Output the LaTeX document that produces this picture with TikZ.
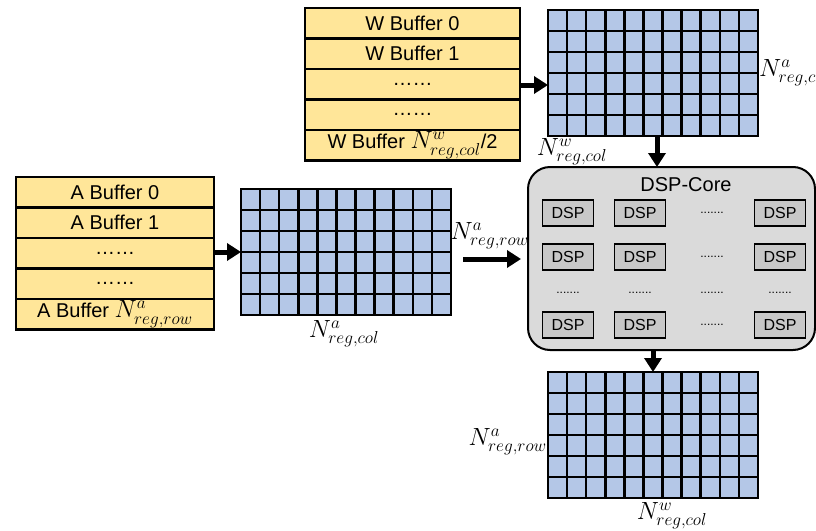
\documentclass[tikz,border=0pt]{standalone}
\usepackage{fontspec}
\setmainfont{Liberation Sans}
\usetikzlibrary{arrows.meta,calc}
\definecolor{bufyellow}{HTML}{FFE699}
\definecolor{regblue}{HTML}{B4C7E7}
\definecolor{coregray}{HTML}{DADADA}
\definecolor{dspgray}{HTML}{C8C8C8}
\tikzset{
  bufrow/.style={draw=black, line width=2.2pt, fill=bufyellow, minimum width=#1, minimum height=30.5pt, inner sep=0pt, outer sep=0pt, font=\fontsize{20}{22}\selectfont, anchor=north west},
  regmat/.style={draw=black, line width=2.6pt, fill=regblue, minimum width=210pt, minimum height=126pt, inner sep=0pt, outer sep=0pt, anchor=north west},
  gridline/.style={line width=2.6pt},
  bigarrow/.style={line width=5pt, -{Triangle[length=14pt,width=17pt]}},
  dspbox/.style={draw=black, line width=1.8pt, fill=dspgray, minimum width=51pt, minimum height=26pt, inner sep=0pt, outer sep=0pt, font=\fontsize{16}{18}\selectfont},
  dots/.style={font=\fontsize{12}{14}\selectfont, inner sep=0pt},
  mathlbl/.style={font=\fontsize{23}{25}\selectfont, inner sep=0pt},
}
\newcommand{\bigmath}[1]{{\fontsize{23}{25}\selectfont$#1$}}
\newcommand{\regcells}[1]{%
  \foreach \i in {1,...,10} {
    \draw[gridline] ($(#1.north west)!\i/11!(#1.north east)$) -- ($(#1.south west)!\i/11!(#1.south east)$);
  }
  \foreach \j in {1,...,5} {
    \draw[gridline] ($(#1.north west)!\j/6!(#1.south west)$) -- ($(#1.north east)!\j/6!(#1.south east)$);
  }
}
\begin{document}
\begin{tikzpicture}[x=1pt,y=-1pt]
\useasboundingbox (0,0) rectangle (816,530);

% W buffer
\node[bufrow=215pt] (w0) at (305,8) {W Buffer 0};
\node[bufrow=215pt] (w1) at (w0.south west) {W Buffer 1};
\node[bufrow=215pt] (w2) at (w1.south west) {……};
\node[bufrow=215pt] (w3) at (w2.south west) {……};
\node[bufrow=215pt] (w4) at (w3.south west) {W Buffer \bigmath{N^{w}_{reg,col}}/2};

% A buffer
\node[bufrow=198pt] (a0) at (16,177) {A Buffer 0};
\node[bufrow=198pt] (a1) at (a0.south west) {A Buffer 1};
\node[bufrow=198pt] (a2) at (a1.south west) {……};
\node[bufrow=198pt] (a3) at (a2.south west) {……};
\node[bufrow=198pt] (a4) at (a3.south west) {A Buffer \bigmath{N^{a}_{reg,row}}};

% register matrices
\node[regmat] (wm) at (548,10) {};
\regcells{wm}
\node[regmat] (am) at (241,189) {};
\regcells{am}
\node[regmat] (om) at (548,372) {};
\regcells{om}

% DSP core
\node[draw=black, line width=2pt, fill=coregray, rounded corners=22pt, minimum width=287pt, minimum height=183pt, anchor=north west, inner sep=0pt, outer sep=0pt] (core) at (528,167) {};
\node[font=\fontsize{20}{22}\selectfont, inner sep=0pt] (coret) at (686,185) {DSP-Core};

\node[dspbox] (d11) at (568,213) {DSP};
\node[dspbox] (d12) at (640,213) {DSP};
\node[dots]   (e13) at (712,213) {.......};
\node[dspbox] (d14) at (780,213) {DSP};
\node[dspbox] (d21) at (568,257) {DSP};
\node[dspbox] (d22) at (640,257) {DSP};
\node[dots]   (e23) at (712,257) {.......};
\node[dspbox] (d24) at (780,257) {DSP};
\node[dots]   (e31) at (568,293) {.......};
\node[dots]   (e32) at (640,293) {.......};
\node[dots]   (e33) at (712,293) {.......};
\node[dots]   (e34) at (780,293) {.......};
\node[dspbox] (d41) at (568,325) {DSP};
\node[dspbox] (d42) at (640,325) {DSP};
\node[dots]   (e43) at (712,325) {.......};
\node[dspbox] (d44) at (780,325) {DSP};

% arrows
\coordinate (wa) at (w2.east |- 0,85);
\draw[bigarrow] (wa) -- (wm.west |- wa);
\coordinate (aa) at (a2.east |- 0,252);
\draw[bigarrow] (aa) -- (am.west |- aa);
\coordinate (ma1) at (463,259);
\coordinate (ma2) at (521,259);
\draw[bigarrow] (ma1) -- (ma2);
\coordinate (wd) at (657,0);
\draw[bigarrow] (wm.south -| wd) -- (core.north -| wd);
\coordinate (cd) at (653,0);
\draw[bigarrow] (core.south -| cd) -- (om.north -| cd);

% labels
\node[mathlbl, anchor=west] (l1) at (759,73) {$N^{a}_{reg,col}$};
\node[mathlbl] (l2) at (572,152) {$N^{w}_{reg,col}$};
\node[mathlbl] (l3) at (344,334) {$N^{a}_{reg,col}$};
\node[mathlbl, anchor=east] (l4) at (529,236) {$N^{a}_{reg,row}$};
\node[mathlbl, anchor=east] (l5) at (547,442) {$N^{a}_{reg,row}$};
\node[mathlbl] (l6) at (672,516) {$N^{w}_{reg,col}$};
\end{tikzpicture}
\end{document}
